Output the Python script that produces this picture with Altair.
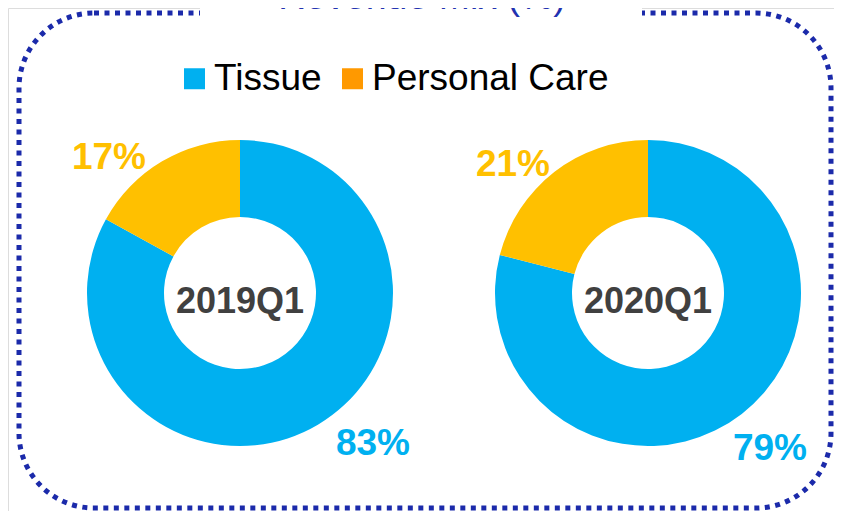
import altair as alt
import pandas as pd

# ---- data ----
periods = ["2019Q1", "2020Q1"]
categories = ["Tissue", "Personal Care"]
tissue_share = [83, 79]
personal_care_share = [17, 21]
title_text = "Revenue Mix (%)"

# ---- styles ----
slice_colors = ["#00B0F0", "#FFC000"]
legend_colors = ["#00B0F0", "#FF9900"]
border_color = "#1B2AAA"
title_color = "#2232B0"
center_text_color = "#404040"
FONT = "Liberation Sans"

rows = []
for i, p in enumerate(periods):
    vals = [tissue_share[i], personal_care_share[i]]
    for j, (c, v) in enumerate(zip(categories, vals)):
        rows.append({"period": p, "category": c, "share": v, "ord": j, "label": f"{v}%"})
df = pd.DataFrame(rows)

# ---- layout ----
W, H = 826, 503
CY = 285
R_OUT, R_IN = 153, 76
centers_x = [232, 640]
pc_label_offsets = [(-131, -124), (-135, -117)]
tissue_label_offsets = [(133, 162), (122, 167)]

xscale = alt.Scale(type="point", domain=periods, range=centers_x, padding=0)
X = alt.X("period:N", scale=xscale, axis=None)

base = alt.Chart(df)
one = alt.Chart(alt.Data(values=[{"k": 1}]))

border = one.mark_rect(
    fillOpacity=0, stroke=border_color, strokeWidth=5, strokeDash=[5, 5.5], cornerRadius=75
).encode(x=alt.value(11), x2=alt.value(823), y=alt.value(5), y2=alt.value(500))

cover = one.mark_rect(color="white").encode(
    x=alt.value(192), x2=alt.value(634), y=alt.value(-5), y2=alt.value(14)
)

title = one.mark_text(
    text=title_text, font=FONT, fontSize=37.5, color=title_color, align="center", baseline="alphabetic"
).encode(x=alt.value(414), y=alt.value(1))

legend = alt.Legend(
    title=None,
    orient="none",
    legendX=168,
    legendY=52,
    direction="horizontal",
    symbolType="square",
    symbolSize=441,
    symbolStrokeWidth=0,
    symbolOpacity=1,
    labelFont=FONT,
    labelFontSize=37,
    labelColor="black",
    labelOffset=1,
    labelLimit=500,
    columnPadding=12,
)

# invisible layer that only carries the legend (legend swatch colours differ from slices)
legend_layer = base.transform_filter(alt.datum.period == periods[0]).mark_square(
    opacity=0, size=1
).encode(
    x=X,
    y=alt.value(CY),
    color=alt.Color("category:N", scale=alt.Scale(domain=categories, range=legend_colors), legend=legend),
)

layers = [border, cover, title, legend_layer]
for i, p in enumerate(periods):
    sub = base.transform_filter(alt.datum.period == p)
    arc = sub.mark_arc(radius=R_OUT, radius2=R_IN, strokeWidth=0).encode(
        x=X,
        y=alt.value(CY),
        theta=alt.Theta("share:Q", stack=True, scale=alt.Scale(domain=[0, 100])),
        fill=alt.Fill(
            "category:N", scale=alt.Scale(domain=categories, range=slice_colors), legend=None
        ),
        order=alt.Order("ord:Q", sort="ascending"),
    )
    layers.append(arc)
    pdx, pdy = pc_label_offsets[i]
    tdx, tdy = tissue_label_offsets[i]
    pc_lab = sub.transform_filter(alt.datum.category == categories[1]).mark_text(
        font=FONT, fontSize=37, fontWeight="bold", color=slice_colors[1],
        align="center", baseline="alphabetic", dx=pdx, dy=pdy,
    ).encode(x=X, y=alt.value(CY), text="label:N")
    t_lab = sub.transform_filter(alt.datum.category == categories[0]).mark_text(
        font=FONT, fontSize=37, fontWeight="bold", color=slice_colors[0],
        align="center", baseline="alphabetic", dx=tdx, dy=tdy,
    ).encode(x=X, y=alt.value(CY), text="label:N")
    layers += [pc_lab, t_lab]

center = base.transform_filter(alt.datum.ord == 0).mark_text(
    font=FONT, fontSize=36, fontWeight="bold", color=center_text_color,
    align="center", baseline="alphabetic", dy=20,
).encode(x=X, y=alt.value(CY), text="period:N")
layers.append(center)

chart = alt.layer(*layers).properties(
    width=W, height=H, padding=0, autosize=alt.AutoSizeParams(type="none")
).configure_view(stroke=None).configure(background="white")

chart.save("out.html", embed_options={"renderer": "svg", "actions": False})
